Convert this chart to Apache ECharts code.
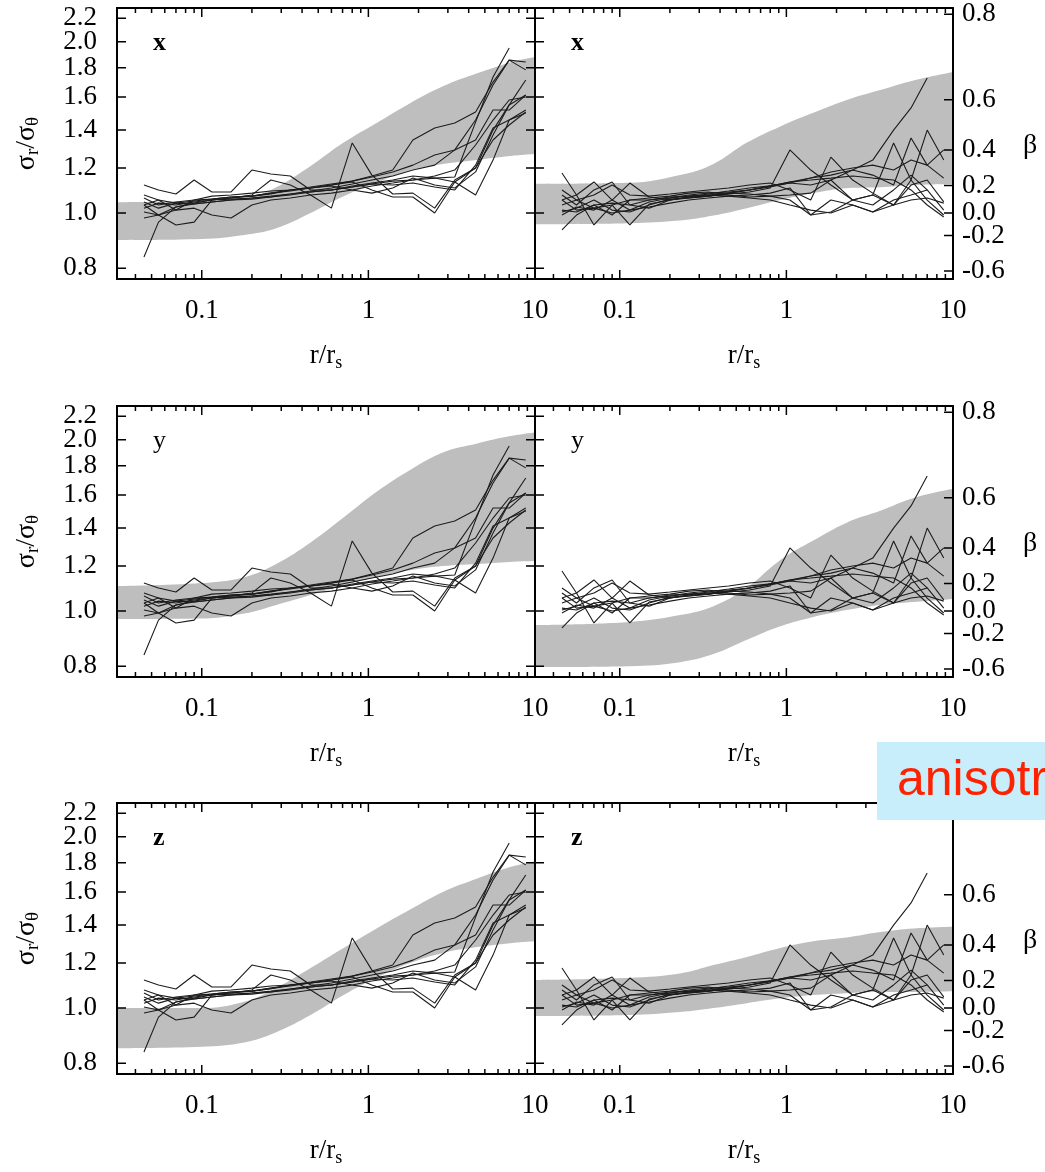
<!DOCTYPE html>
<html><head><meta charset="utf-8">
<script src="https://cdn.jsdelivr.net/npm/echarts@6/dist/echarts.min.js"></script>
<style>html,body{margin:0;padding:0;background:#fff}#c{width:1045px;height:1172px}</style>
</head><body><div id="c"></div>
<script>
// ---------- data ----------
const rGrid = [0.045,0.055,0.07,0.09,0.115,0.15,0.2,0.26,0.34,0.45,0.6,0.8,1.05,1.4,1.85,2.5,3.3,4.4,5.6,7.0,8.8];

// sigma_r/sigma_theta profiles (left column)
const sigmaLines = [
  [0.837,0.964,1.025,1.037,1.046,1.054,1.063,1.067,1.080,1.089,1.098,1.111,1.125,1.138,1.143,1.152,1.157,1.445,1.734,1.950,null],
  [1.120,1.098,1.080,1.143,1.089,1.089,1.190,1.171,1.162,1.098,1.098,1.116,1.129,1.143,1.162,1.152,1.134,1.200,1.399,1.549,1.612],
  [1.033,0.992,1.025,1.041,1.054,1.063,1.076,1.143,1.120,1.076,1.020,1.328,1.166,1.080,1.084,1.020,1.143,1.200,1.344,1.428,1.505],
  [1.063,1.033,1.046,1.054,1.058,1.067,1.071,1.080,1.098,1.107,1.120,1.134,1.098,1.067,1.067,1.000,1.134,1.076,1.239,1.457,1.517],
  [1.004,0.992,0.953,0.964,1.054,1.058,1.063,1.071,1.080,1.093,1.107,1.125,1.143,1.162,1.190,1.214,1.291,1.457,1.679,1.857,1.785],
  [0.980,0.992,1.012,1.020,0.992,0.980,1.033,1.054,1.063,1.076,1.084,1.098,1.116,1.129,1.143,1.162,1.190,1.317,1.457,1.580,1.599],
  [1.033,1.054,1.041,1.050,1.058,1.067,1.071,1.084,1.093,1.107,1.120,1.138,1.162,1.190,1.344,1.411,1.440,1.505,1.699,1.857,1.843],
  [1.020,1.041,1.033,1.046,1.054,1.063,1.071,1.084,1.098,1.111,1.125,1.138,1.157,1.181,1.214,1.265,1.291,1.344,1.517,1.517,1.612],
  [1.046,1.020,1.041,1.037,1.046,1.054,1.058,1.067,1.076,1.089,1.098,1.111,1.125,1.120,1.129,1.111,1.098,1.214,1.411,1.457,1.499],
  [1.076,1.054,1.012,1.054,1.071,1.076,1.084,1.093,1.098,1.107,1.116,1.098,1.084,1.107,1.152,1.120,1.107,1.181,1.371,1.549,1.713]
];

// anisotropy profiles (right column), same sigma-ratio scale
const betaLines = [
  [0.934,0.992,1.033,1.041,1.033,1.054,1.063,1.076,1.084,1.089,1.098,1.116,1.134,1.152,1.166,1.190,1.239,1.399,1.530,1.727,null],
  [1.176,1.076,0.953,1.033,1.054,1.063,1.071,1.084,1.089,1.076,1.067,1.071,1.076,1.084,1.143,1.054,1.033,1.098,1.166,1.098,null],
  [1.076,1.033,1.098,1.134,1.033,1.020,1.054,1.067,1.071,1.080,1.089,1.107,1.291,1.190,1.120,1.054,1.076,1.033,1.143,1.054,0.992],
  [1.054,1.012,1.020,1.000,1.012,1.025,1.041,1.054,1.063,1.071,1.076,1.084,1.107,0.992,1.054,1.033,1.004,1.054,1.076,1.098,1.012],
  [1.033,1.054,1.076,1.120,1.076,1.071,1.080,1.089,1.098,1.107,1.120,1.129,1.098,1.054,1.254,1.143,1.084,1.033,1.120,1.143,1.046],
  [1.012,1.004,1.033,0.992,1.054,1.054,1.067,1.071,1.076,1.084,1.080,1.071,1.054,0.992,1.004,1.054,1.076,1.328,1.143,1.399,1.239],
  [1.004,1.020,1.054,1.012,1.004,1.033,1.058,1.063,1.071,1.084,1.098,1.111,1.129,1.120,1.143,1.190,1.166,1.120,1.355,1.214,1.152],
  [1.098,1.054,1.020,1.033,0.953,1.037,1.054,1.067,1.080,1.093,1.107,1.116,1.134,1.143,1.152,1.162,1.152,1.143,1.098,1.033,0.984],
  [1.054,1.076,1.134,1.054,1.012,1.046,1.063,1.071,1.076,1.071,1.063,1.054,1.033,1.012,1.000,1.033,1.004,1.033,1.054,1.063,1.041],
  [0.992,1.025,1.012,1.054,1.129,1.067,1.054,1.063,1.071,1.084,1.098,1.116,1.129,1.152,1.181,1.200,1.214,1.190,1.239,1.214,1.291]
];

// shaded model bands
const bandRLeft  = [0.031,0.1,0.18,0.28,0.45,0.71,1.12,1.78,2.8,4.5,7.1,10];
const bandRRight = [0.031,0.115,0.23,0.365,0.58,0.92,1.45,2.3,3.66,5.8,10];
const bandXLeftLow   = [0.896,0.9,0.915,0.94,1.0,1.07,1.13,1.19,1.22,1.24,1.26,1.27];
const bandXLeftHigh  = [1.045,1.05,1.06,1.11,1.21,1.33,1.44,1.56,1.67,1.76,1.84,1.88];
const bandXRightLow  = [0.956,0.96,0.97,0.99,1.02,1.054,1.084,1.106,1.11,1.12,1.125];
const bandXRightHigh = [1.125,1.13,1.166,1.22,1.33,1.42,1.50,1.58,1.645,1.71,1.77];
const bandYLeftLow   = [0.968,0.97,0.99,1.025,1.067,1.11,1.147,1.18,1.2,1.21,1.22,1.224];
const bandYLeftHigh  = [1.106,1.12,1.147,1.21,1.32,1.46,1.62,1.77,1.90,1.97,2.03,2.06];
const bandYRightLow  = [0.797,0.80,0.813,0.84,0.89,0.94,0.976,1.004,1.025,1.037,1.05];
const bandYRightHigh = [0.945,0.957,0.984,1.02,1.10,1.23,1.33,1.43,1.50,1.58,1.64];
const bandZLeftLow   = [0.85,0.855,0.87,0.907,0.972,1.054,1.13,1.2,1.25,1.28,1.30,1.31];
const bandZLeftHigh  = [1.0,1.0,1.026,1.085,1.176,1.275,1.38,1.49,1.6,1.69,1.77,1.81];
const bandZRightLow  = [0.968,0.972,0.984,1.0,1.02,1.04,1.054,1.062,1.067,1.067,1.07];
const bandZRightHigh = [1.12,1.13,1.15,1.19,1.23,1.275,1.31,1.33,1.36,1.38,1.39];

// ticks
const sigmaTicks = [0.8,1.0,1.2,1.4,1.6,1.8,2.0,2.2];
const betaTicks = [0.8,0.6,0.4,0.2,0.0,-0.2,-0.6];
const xMajorTicks = [0.1,1,10];
const xMinorTicks = [0.04,0.05,0.06,0.07,0.08,0.09,0.2,0.3,0.4,0.5,0.6,0.7,0.8,0.9,2,3,4,5,6,7,8,9];
const panelLabels = ['x','y','z'];

// ---------- layout ----------
// both axes are logarithmic: positions are computed in log10 space
const L = v => (v == null ? null : Math.log10(v));
const FONT = "'Liberation Serif','Times New Roman',serif";
const X_MIN = L(0.031), X_MAX = L(10), Y_MIN = L(0.7657), Y_MAX = L(2.293);
const rowTops = [8, 406, 803];
const PH = 271, PW = 418;
const colLefts = [117, 535];
const BAND = '#bebebe';
const MAJOR = 9, MINOR = 5;   // tick lengths in pixels
// pixel lengths expressed in axis units (axes span PW / PH pixels)
const dxPer = (X_MAX - X_MIN) / PW, dyPer = (Y_MAX - Y_MIN) / PH;

const bands = [
  [[bandRLeft, bandXLeftLow, bandXLeftHigh], [bandRRight, bandXRightLow, bandXRightHigh]],
  [[bandRLeft, bandYLeftLow, bandYLeftHigh], [bandRRight, bandYRightLow, bandYRightHigh]],
  [[bandRLeft, bandZLeftLow, bandZLeftHigh], [bandRRight, bandZRightLow, bandZRightHigh]]
];
const sigmaTickPos = sigmaTicks.map(L);
const sigmaLabelsA = sigmaTickPos.filter((v, i) => i % 2 === 0);   // 0.8 1.2 1.6 2.0
const sigmaLabelsB = sigmaTickPos.filter((v, i) => i % 2 === 1);   // 1.0 1.4 1.8 2.2
const betaTickPos = betaTicks.map(b => L(1 / Math.sqrt(1 - b)));
const xMajorPos = xMajorTicks.map(L);
const xMinorPos = xMinorTicks.map(L);

const grids = [], xAxes = [], yAxes = [], series = [], graphics = [];
const frameLine = () => ({ show: true, onZero: false, lineStyle: { color: '#000', width: 2 } });
const subRich = (m, s) => ({
  m: { fontFamily: FONT, fontSize: m, color: '#000' },
  s: { fontFamily: FONT, fontSize: s, color: '#000', padding: [14, 0, 0, 0] }
});
const sigmaLabel = vals => ({
  show: true, customValues: vals, margin: 20, color: '#000', fontFamily: FONT, fontSize: 27,
  hideOverlap: false, showMinLabel: true, showMaxLabel: true,
  formatter: v => Math.pow(10, v).toFixed(1)
});

for (let row = 0; row < 3; row++) {
  for (let col = 0; col < 2; col++) {
    const g = grids.length;
    grids.push({ left: colLefts[col], top: rowTops[row], width: PW, height: PH });
    const xi = xAxes.length;
    xAxes.push({
      type: 'value', gridIndex: g, position: 'bottom', min: X_MIN, max: X_MAX, z: 10,
      axisLine: frameLine(), axisTick: { show: false }, splitLine: { show: false },
      axisLabel: {
        show: true, customValues: xMajorPos, margin: 18, color: '#000', fontFamily: FONT, fontSize: 27,
        hideOverlap: false, showMinLabel: true, showMaxLabel: true,
        formatter: v => { const r = Math.pow(10, v); return r < 1 ? r.toFixed(1) : String(Math.round(r)); }
      },
      name: '{m|r/r}{s|s}', nameLocation: 'middle', nameGap: 61,
      nameTextStyle: { color: '#000', rich: subRich(27, 18) }
    });
    xAxes.push({
      type: 'value', gridIndex: g, position: 'top', min: X_MIN, max: X_MAX, z: 10,
      axisLine: frameLine(), axisTick: { show: false }, axisLabel: { show: false }, splitLine: { show: false }
    });
    const yi = yAxes.length;
    yAxes.push({
      type: 'value', gridIndex: g, position: 'left', min: Y_MIN, max: Y_MAX, z: 10,
      axisLine: frameLine(), axisTick: { show: false }, splitLine: { show: false },
      axisLabel: col === 0 ? sigmaLabel(sigmaLabelsA) : { show: false },
      name: col === 0 ? '{m|σ}{s|r}{m|/σ}{s|θ}' : '',
      nameLocation: 'middle', nameGap: 74,
      nameTextStyle: { color: '#000', rich: subRich(28, 19) }
    });
    yAxes.push({
      type: 'value', gridIndex: g, position: 'right', min: Y_MIN, max: Y_MAX, z: 10,
      axisLine: frameLine(), axisTick: { show: false }, splitLine: { show: false },
      axisLabel: col === 1 ? {
        show: true, customValues: betaTickPos, margin: 9, color: '#000', fontFamily: FONT, fontSize: 27,
        hideOverlap: false, showMinLabel: true, showMaxLabel: true,
        formatter: v => { const b = 1 - Math.pow(10, -2 * v); return (Math.abs(b) < 1e-9 ? 0 : b).toFixed(1); }
      } : { show: false }
    });
    if (col === 0) {
      // second label set on the left so that closely spaced labels are not dropped
      yAxes.push({
        type: 'value', gridIndex: g, position: 'left', min: Y_MIN, max: Y_MAX, z: 10,
        axisLine: frameLine(), axisTick: { show: false }, splitLine: { show: false },
        axisLabel: sigmaLabel(sigmaLabelsB)
      });
    }

    // band: gray fill below the upper edge, then white fill below the lower edge
    const [bR, bLow, bHigh] = bands[row][col];
    series.push({
      type: 'line', xAxisIndex: xi, yAxisIndex: yi, silent: true,
      data: bR.map((r, i) => [L(r), L(bHigh[i])]), symbol: 'none', smooth: 0.4,
      lineStyle: { width: 0, opacity: 0 }, areaStyle: { color: BAND, opacity: 1, origin: 'start' }, z: 1
    });
    series.push({
      type: 'line', xAxisIndex: xi, yAxisIndex: yi, silent: true,
      data: bR.map((r, i) => [L(r), L(bLow[i])]), symbol: 'none', smooth: 0.4,
      lineStyle: { width: 0, opacity: 0 }, areaStyle: { color: '#ffffff', opacity: 1, origin: 'start' }, z: 2
    });
    // profiles
    const lines = col === 0 ? sigmaLines : betaLines;
    lines.forEach(vals => {
      series.push({
        type: 'line', xAxisIndex: xi, yAxisIndex: yi, silent: true,
        data: rGrid.map((r, i) => [L(r), L(vals[i])]), symbol: 'none', connectNulls: false,
        lineStyle: { color: '#1c1c1c', width: 1.1 }, z: 3
      });
    });

    // inward frame ticks as short segments on the panel's own axes (null breaks between segments)
    const tickData = [];
    const seg = (a, b) => { tickData.push(a, b, [a[0], null]); };
    [[xMajorPos, MAJOR], [xMinorPos, MINOR]].forEach(([vals, len]) => vals.forEach(v => {
      seg([v, Y_MIN], [v, Y_MIN + len * dyPer]);
      seg([v, Y_MAX], [v, Y_MAX - len * dyPer]);
    }));
    sigmaTickPos.forEach(v => seg([X_MIN, v], [X_MIN + MAJOR * dxPer, v]));
    (col === 0 ? sigmaTickPos : betaTickPos).forEach(v => seg([X_MAX, v], [X_MAX - MAJOR * dxPer, v]));
    series.push({
      type: 'line', xAxisIndex: xi, yAxisIndex: yi, silent: true, clip: false,
      data: tickData, symbol: 'none', connectNulls: false,
      lineStyle: { color: '#000', width: 1.5 }, z: 6
    });

    graphics.push({
      type: 'text', left: colLefts[col] + 36, top: rowTops[row] + 22, z: 50,
      style: { text: panelLabels[row], fontFamily: FONT, fontSize: 26, fontWeight: row === 1 ? 'normal' : 'bold', fill: '#000' }
    });
  }
  graphics.push({
    type: 'text', left: 1023, top: rowTops[row] + 124, z: 50,
    style: { text: 'β', fontFamily: FONT, fontSize: 28, fill: '#000' }
  });
}

graphics.push({ type: 'rect', z: 100, shape: { x: 877, y: 742, width: 170, height: 78 }, style: { fill: '#c9eefb' } });
graphics.push({ type: 'text', z: 101, x: 897, y: 781,
  style: { text: 'anisotr', fontFamily: "'Liberation Sans',Arial,sans-serif", fontSize: 50, fill: '#ff2200', verticalAlign: 'middle' } });

const chart = echarts.init(document.getElementById('c'), null, { renderer: 'canvas' });
chart.setOption({
  backgroundColor: '#ffffff',
  animation: false,
  grid: grids,
  xAxis: xAxes,
  yAxis: yAxes,
  series: series,
  graphic: graphics
});
</script></body></html>
